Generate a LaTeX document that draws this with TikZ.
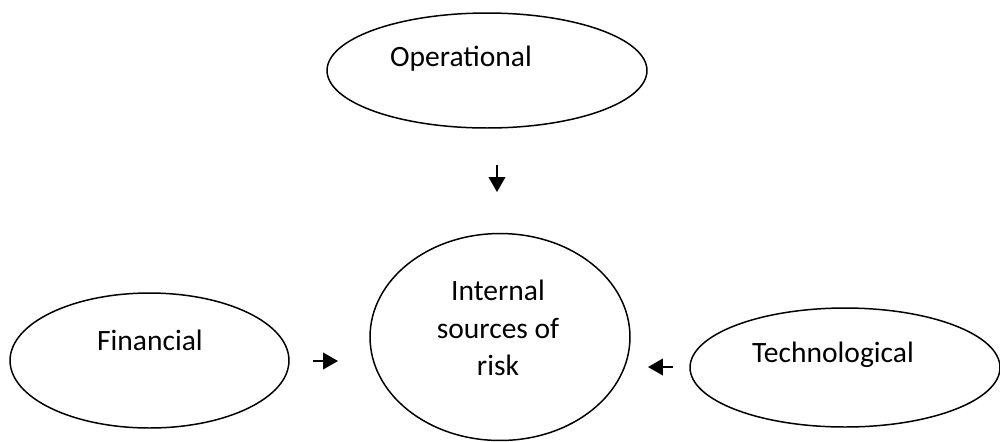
\documentclass[tikz,border=0pt]{standalone}
\usepackage{fontspec}
\setmainfont{Carlito}
\usetikzlibrary{shapes.geometric,arrows.meta}
\begin{document}
\begin{tikzpicture}[x=0.02cm,y=-0.02cm,
  oval/.style={draw=black,line width=0.85pt,shape=ellipse,inner sep=0pt},
  lbl/.style={anchor=base,inner sep=0pt,font=\fontsize{16.8}{21.3}\selectfont,align=center},
  arr/.style={line width=0.9pt,-{Triangle[length=8.5pt,width=9.5pt]}}]
\useasboundingbox (0,0) rectangle (1000,441);
\node[oval,minimum width=6.4cm,minimum height=2.3cm] (op) at (487,70.5) {};
\node[oval,minimum width=5.58cm,minimum height=2.7cm] (fin) at (149.5,360.5) {};
\node[oval,minimum width=6.2cm,minimum height=2.38cm] (tech) at (845,367.5) {};
\node[oval,minimum width=5.2cm,minimum height=4.14cm] (risk) at (500,337) {};
\node[lbl] (opt) at (461,66) {Operational};
\node[lbl] (fint) at (150,350) {Financial};
\node[lbl] (techt) at (833,362) {Technological};
\node[lbl] (r1) at (498,300) {Internal};
\node[lbl] (r2) at (498,338) {sources of};
\node[lbl] (r3) at (498,375) {risk};
\coordinate (a1s) at (497,165);
\coordinate (a1e) at (497,192);
\coordinate (a2s) at (313,361);
\coordinate (a2e) at (338,361);
\coordinate (a3s) at (673,367);
\coordinate (a3e) at (648,367);
\draw[arr] (a1s) -- (a1e);
\draw[arr] (a2s) -- (a2e);
\draw[arr] (a3s) -- (a3e);
\end{tikzpicture}
\end{document}
